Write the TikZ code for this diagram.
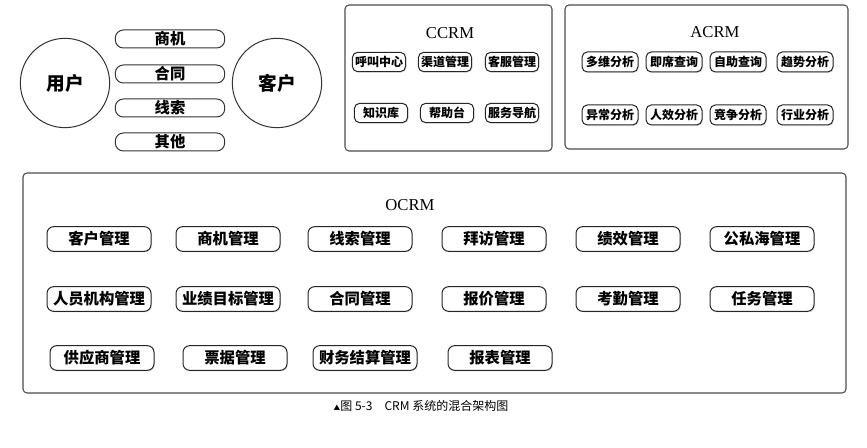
\documentclass[tikz,border=0pt]{standalone}
\usepackage{fontspec}
\newfontfamily\cjk{Noto Sans CJK SC}
\newfontfamily\ttl{Liberation Serif}
\usetikzlibrary{shadows}

\tikzset{every picture/.style={line width=0.75pt}}
\tikzset{
  panel/.style={draw=black!70, rounded corners=3pt, line width=0.8pt},
  role/.style={draw=black!80, circle, minimum size=67pt, inner sep=0pt, font=\cjk\bfseries\fontsize{14}{16}\selectfont},
  pill/.style={draw=black!80, rounded corners=6pt, minimum width=82pt, minimum height=13.5pt, inner sep=0pt, font=\cjk\bfseries\fontsize{11.5}{13}\selectfont},
  cbox/.style={draw=black!85, rounded corners=4pt, minimum width=40pt, minimum height=14.5pt, inner sep=0.5pt, font=\cjk\bfseries\fontsize{9}{10}\selectfont, drop shadow={opacity=0.2, shadow xshift=0.8pt, shadow yshift=-0.8pt}, fill=white},
  abox/.style={cbox, minimum width=42pt, minimum height=15pt},
  obox/.style={draw=black!85, rounded corners=5pt, minimum width=78pt, minimum height=18.5pt, inner sep=0.5pt, font=\cjk\bfseries\fontsize{11.5}{13}\selectfont, drop shadow={opacity=0.2, shadow xshift=0.8pt, shadow yshift=-0.8pt}, fill=white},
  title/.style={font=\ttl\fontsize{12.5}{14}\selectfont, inner sep=0.75pt},
}

\begin{document}
\begin{tikzpicture}[x=0.75pt,y=0.75pt,yscale=-1,xscale=1]
    \useasboundingbox (0,0) rectangle (867,448);

    %Shape: Circle [user / customer]
    \node [role] (user) at (65,83) {用户};
    \node [role] (cust) at (277,83) {客户};

    %Shape: Pills between them
    \node [pill] (opp) at (170,39) {商机};
    \node [pill] (con) at (170,74) {合同};
    \node [pill] (lead) at (170,108) {线索};
    \node [pill] (other) at (170,142) {其他};

    %Shape: Rectangle [CCRM panel]
    \draw [panel] (345,5) rectangle (552,151);
    \node [title] (ccrm) at (450,33) {CCRM};
    \node [cbox] (call) at (379,62) {呼叫中心};
    \node [cbox] (chan) at (445,62) {渠道管理};
    \node [cbox] (serv) at (512,62) {客服管理};
    \node [cbox] (know) at (381,113) {知识库};
    \node [cbox] (help) at (447,113) {帮助台};
    \node [cbox] (navi) at (512,113) {服务导航};

    %Shape: Rectangle [ACRM panel]
    \draw [panel] (565,5) rectangle (848,149);
    \node [title] (acrm) at (715,32) {ACRM};
    \node [abox] (multi) at (610,62) {多维分析};
    \node [abox] (adhoc) at (674,62) {即席查询};
    \node [abox] (self) at (738,62) {自助查询};
    \node [abox] (trend) at (805,62) {趋势分析};
    \node [abox] (anom) at (610,115) {异常分析};
    \node [abox] (eff) at (674,115) {人效分析};
    \node [abox] (comp) at (738,115) {竞争分析};
    \node [abox] (ind) at (805,115) {行业分析};

    %Shape: Rectangle [OCRM panel]
    \draw [panel] (23,173) rectangle (846,393);
    \node [title] (ocrm) at (410,205) {OCRM};
    % row 1
    \node [obox] (custm) at (99,239) {客户管理};
    \node [obox] (oppm) at (228,239) {商机管理};
    \node [obox] (leadm) at (360,239) {线索管理};
    \node [obox] (visit) at (494,239) {拜访管理};
    \node [obox] (perf) at (628,239) {绩效管理};
    \node [obox] (pool) at (762,239) {公私海管理};
    % row 2
    \node [obox] (org) at (99,299) {人员机构管理};
    \node [obox] (goal) at (228,299) {业绩目标管理};
    \node [obox] (conm) at (360,299) {合同管理};
    \node [obox] (quote) at (494,299) {报价管理};
    \node [obox] (att) at (628,299) {考勤管理};
    \node [obox] (task) at (762,299) {任务管理};
    % row 3
    \node [obox] (supp) at (102,358) {供应商管理};
    \node [obox] (bill) at (235,358) {票据管理};
    \node [obox] (fin) at (365,358) {财务结算管理};
    \node [obox] (rep) at (500,358) {报表管理};

    % Text Node
    \node [font=\cjk\fontsize{9}{10}\selectfont, inner sep=0.75pt] (cap) at (421,406) {{\tiny▲}图 5-3\quad CRM 系统的混合架构图};
\end{tikzpicture}
\end{document}
